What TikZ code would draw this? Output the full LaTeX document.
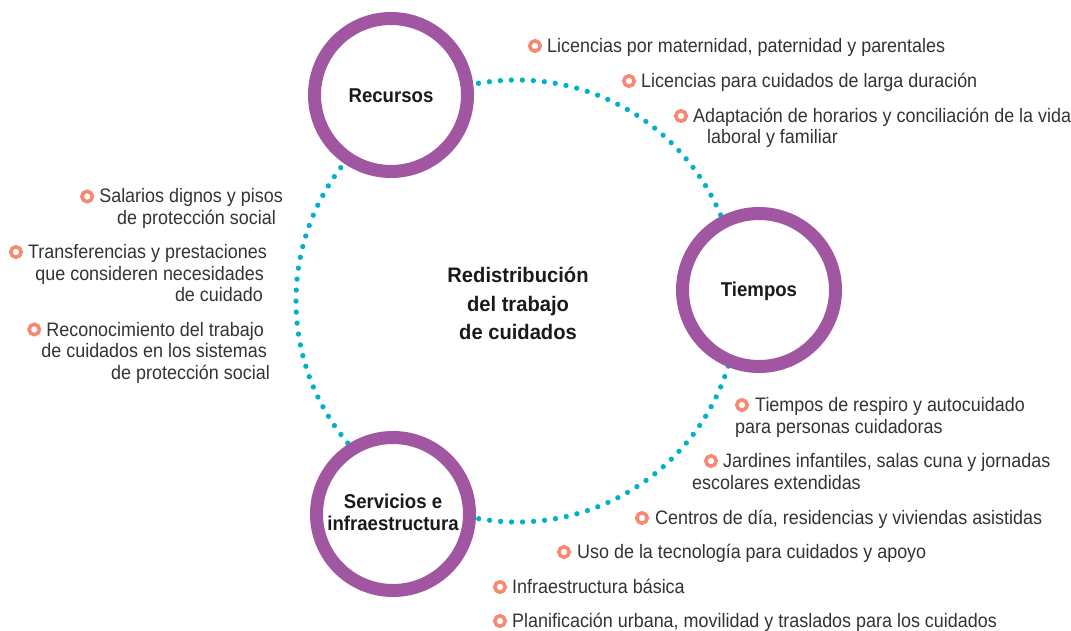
\documentclass[tikz,border=0pt]{standalone}
\usepackage{fontspec}
\newfontfamily\cond[FakeStretch=0.92]{Liberation Sans}
\newfontfamily\condb[FakeStretch=0.93]{Liberation Sans}
\newfontfamily\condc[FakeStretch=0.96]{Liberation Sans}
\definecolor{ringc}{RGB}{160,86,160}
\definecolor{dotc}{RGB}{0,178,200}
\definecolor{bulc}{RGB}{246,137,114}
\definecolor{txtc}{RGB}{51,51,51}
\definecolor{btxtc}{RGB}{26,26,26}
\begin{document}
\begin{tikzpicture}[x=1pt,y=-1pt,
  ringnode/.style={circle,draw=ringc,line width=13pt,fill=white,minimum size=153pt,inner sep=0pt},
  bulnode/.style={circle,draw=bulc,line width=3.6pt,fill=white,minimum size=10.4pt,inner sep=0pt,outer sep=0pt},
  itemL/.style={anchor=base west,inner sep=0pt,font=\cond\fontsize{19.5}{21.5}\selectfont,text=txtc},
  itemR/.style={anchor=base east,inner sep=0pt,font=\cond\fontsize{19.5}{21.5}\selectfont,text=txtc},
  lab/.style={anchor=base,inner sep=0pt,font=\condb\bfseries\fontsize{20}{24}\selectfont,text=btxtc},
  clab/.style={anchor=base,inner sep=0pt,font=\condc\bfseries\fontsize{21}{24}\selectfont,text=btxtc},
  dotline/.style={draw=dotc,line width=5.3pt,line cap=round,dash pattern=on 0pt off 11.02pt}]
\useasboundingbox (0,0) rectangle (1071,631);
\coordinate (c) at (517,301);
\draw[dotline] (c) circle[radius=221];
% rings
\node[ringnode] (rec) at (391,95) {};
\node[ringnode] (tie) at (759,290) {};
\node[ringnode] (ser) at (393,514) {};
\node[lab] (recl) at (391,102.7) {Recursos};
\node[lab] (tiel) at (759,296.7) {Tiempos};
\node[lab] (serl1) at (393,508.3) {Servicios e};
\node[lab] (serl2) at (393,530) {infraestructura};
\node[clab] (cen1) at (518,282.7) {Redistribución};
\node[clab] (cen2) at (518,311) {del trabajo};
\node[clab] (cen3) at (518,339.3) {de cuidados};
% top right
\node[bulnode] (bt1) at (535,46) {};
\node[itemL] (t1) at (547,52.5) {Licencias por maternidad, paternidad y parentales};
\node[bulnode] (bt2) at (629,81) {};
\node[itemL] (t2) at (641,87.5) {Licencias para cuidados de larga duración};
\node[bulnode] (bt3) at (681,116) {};
\node[itemL] (t3a) at (693,122.5) {Adaptación de horarios y conciliación de la vida};
\node[itemL] (t3b) at (707,144) {laboral y familiar};
% left
\node[itemR] (l1a) at (283,203) {Salarios dignos y pisos};
\node[itemR] (l1b) at (276,224.5) {de protección social};
\node[bulnode] (bl1) at ([xshift=-12pt,yshift=6.5pt]l1a.base west) {};
\node[itemR] (l2a) at (267,258.5) {Transferencias y prestaciones};
\node[itemR] (l2b) at (264,280) {que consideren necesidades};
\node[itemR] (l2c) at (263,301.5) {de cuidado};
\node[bulnode] (bl2) at ([xshift=-12pt,yshift=6.5pt]l2a.base west) {};
\node[itemR] (l3a) at (264,336) {Reconocimiento del trabajo};
\node[itemR] (l3b) at (267,357.5) {de cuidados en los sistemas};
\node[itemR] (l3c) at (270,379) {de protección social};
\node[bulnode] (bl3) at ([xshift=-12pt,yshift=6.5pt]l3a.base west) {};
% bottom right
\node[bulnode] (bb1) at (742,405) {};
\node[itemL] (b1a) at (755,411.5) {Tiempos de respiro y autocuidado};
\node[itemL] (b1b) at (735,433) {para personas cuidadoras};
\node[bulnode] (bb2) at (711,461) {};
\node[itemL] (b2a) at (723,467.5) {Jardines infantiles, salas cuna y jornadas};
\node[itemL] (b2b) at (692,489) {escolares extendidas};
\node[bulnode] (bb3) at (642,518) {};
\node[itemL] (b3) at (655,524.5) {Centros de día, residencias y viviendas asistidas};
\node[bulnode] (bb4) at (564,552) {};
\node[itemL] (b4) at (577,558.5) {Uso de la tecnología para cuidados y apoyo};
\node[bulnode] (bb5) at (500,587) {};
\node[itemL] (b5) at (512,593.5) {Infraestructura básica};
\node[bulnode] (bb6) at (500,621) {};
\node[itemL] (b6) at (512,627.5) {Planificación urbana, movilidad y traslados para los cuidados};
\end{tikzpicture}
\end{document}
